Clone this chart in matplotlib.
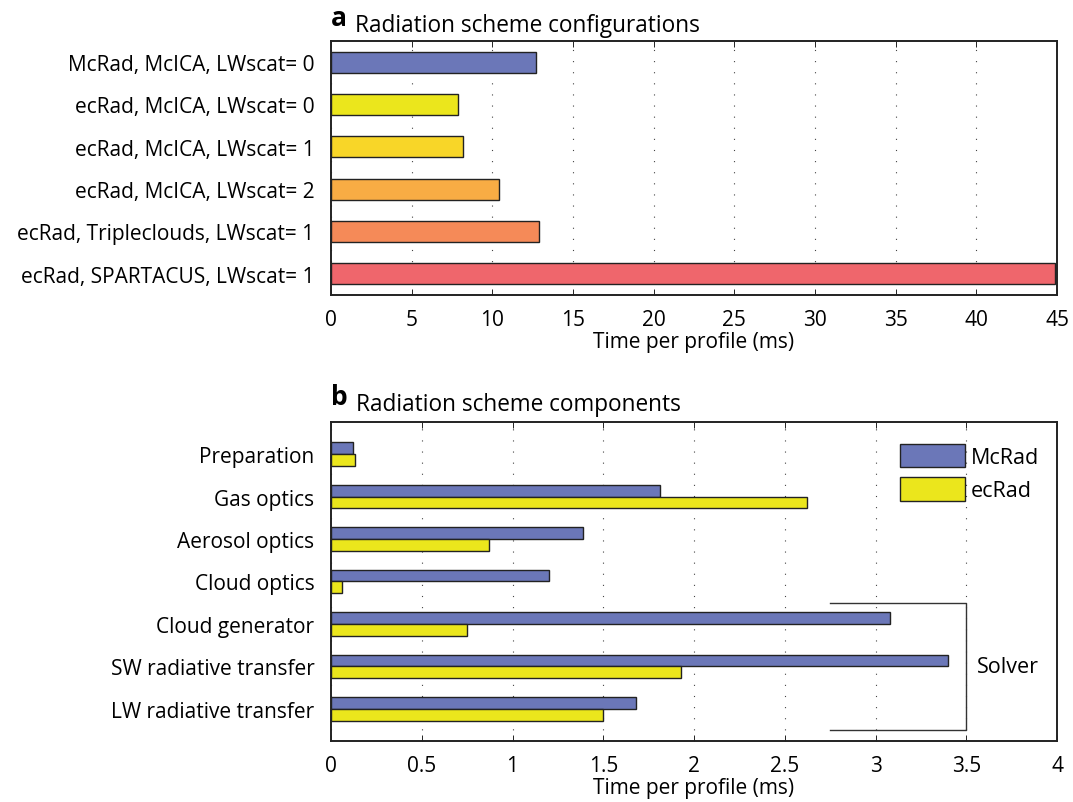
import numpy as np
import matplotlib
matplotlib.use("Agg")
import matplotlib.pyplot as plt

plt.rcParams['font.family'] = ['Open Sans', 'DejaVu Sans']

# Panel a: whole-scheme timings
configs = ['McRad, McICA, LWscat= 0',
           'ecRad, McICA, LWscat= 0',
           'ecRad, McICA, LWscat= 1',
           'ecRad, McICA, LWscat= 2',
           'ecRad, Tripleclouds, LWscat= 1',
           'ecRad, SPARTACUS, LWscat= 1']
config_time = [12.7, 7.85, 8.15, 10.4, 12.9, 44.9]
config_colors = ['#6b77b8', '#ebe61c', '#f8d628', '#f8ac44', '#f58a58', '#ef666c']

# Panel b: per-component timings
components = ['Preparation', 'Gas optics', 'Aerosol optics', 'Cloud optics',
              'Cloud generator', 'SW radiative transfer', 'LW radiative transfer']
mcrad_time = [0.12, 1.81, 1.39, 1.20, 3.08, 3.40, 1.68]
ecrad_time = [0.13, 2.62, 0.87, 0.06, 0.75, 1.93, 1.50]

blue = '#6b77b8'
yellow = '#ebe61c'
edge = '#222222'
fs = 15

fig = plt.figure(figsize=(10.73, 8.03), dpi=100)
ax1 = fig.add_axes([0.3085, 0.6314, 0.6766, 0.3163])
ax2 = fig.add_axes([0.3085, 0.0763, 0.6766, 0.3966])


def style(ax, xmax, step, fmt):
    ax.set_xlim(0, xmax)
    ticks = np.arange(0, xmax + step / 2, step)
    ax.set_xticks(ticks)
    ax.set_xticklabels([fmt(t) for t in ticks])
    ax.xaxis.grid(True, color='#444444', linestyle=(0, (1, 9)), linewidth=0.8)
    ax.set_axisbelow(True)
    ax.tick_params(axis='both', direction='in', top=True, right=True,
                   length=4, width=0.6, labelsize=fs, pad=10)
    ax.tick_params(axis='y', length=0, pad=12)
    for s in ax.spines.values():
        s.set_linewidth(1.4)
        s.set_color('#222222')
    ax.set_xlabel('Time per profile (ms)', fontsize=fs, labelpad=1)


# a
y1 = np.arange(len(configs))
ax1.barh(y1, config_time, height=0.5, color=config_colors,
         edgecolor=edge, linewidth=1.0, zorder=2)
ax1.set_yticks(y1)
ax1.set_yticklabels(configs)
ax1.set_ylim(5.5, -0.5)
style(ax1, 45, 5, lambda t: '%d' % t)

# b
y2 = np.arange(len(components))
h = 0.28
ax2.barh(y2 - h / 2, mcrad_time, height=h, color=blue,
         edgecolor=edge, linewidth=1.0, label='McRad', zorder=2)
ax2.barh(y2 + h / 2, ecrad_time, height=h, color=yellow,
         edgecolor=edge, linewidth=1.0, label='ecRad', zorder=2)
ax2.set_yticks(y2)
ax2.set_yticklabels(components)
ax2.set_ylim(6.75, -0.75)
style(ax2, 4, 0.5, lambda t: '%g' % t)

leg = ax2.legend(loc='upper left', bbox_to_anchor=(0.772, 0.96), frameon=False,
                 fontsize=fs + 0.5, handlelength=3.0, handleheight=1.3,
                 labelspacing=0.45, handletextpad=0.3, borderaxespad=0)

# bracket grouping the solver components
ax2.plot([2.75, 3.5, 3.5, 2.75], [3.5, 3.5, 6.5, 6.5], color='#333333',
         linewidth=1.0, clip_on=False, zorder=3)
ax2.text(3.56, 5.0, 'Solver', fontsize=fs + 0.5, va='center', ha='left')

# panel titles
for ax, letter, title, up in [(ax1, 'a', 'Radiation scheme configurations', 11.5),
                              (ax2, 'b', 'Radiation scheme components', 13)]:
    t = ax.annotate(letter, xy=(0, 1), xycoords='axes fraction', xytext=(0, up),
                    textcoords='offset points', fontsize=19,
                    fontweight='bold', va='baseline', ha='left')
    ax.annotate(title, xy=(1, 0), xycoords=t, xytext=(6, 0),
                textcoords='offset points', fontsize=16.3, va='baseline')

fig.savefig('out.png', dpi=100)
